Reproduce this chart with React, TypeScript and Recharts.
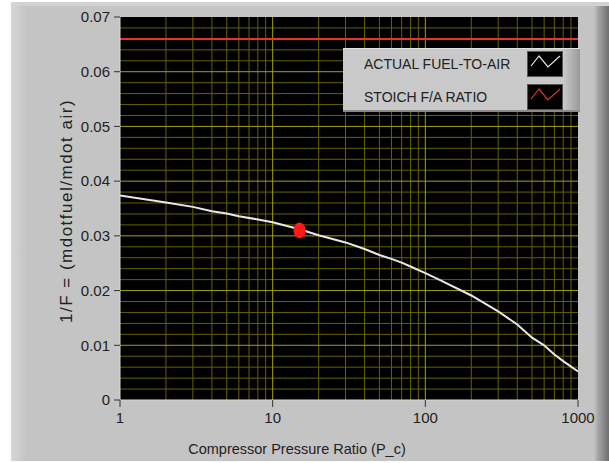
import {
  ComposedChart,
  CartesianGrid,
  Line,
  Scatter,
  XAxis,
  YAxis,
  ReferenceLine,
  Legend,
} from "recharts";

// compressor pressure ratio (log axis) and actual fuel-to-air ratio
const pressureRatio = [1, 2, 3, 4, 5, 6, 8, 10, 15, 20, 30, 40, 50, 60, 70, 80, 100, 125, 200, 300, 400, 500, 600, 700, 800, 1000];
const fuelToAir = [0.0374, 0.0361, 0.0353, 0.0345, 0.0341, 0.0336, 0.033, 0.0325, 0.0312, 0.0301, 0.0288, 0.0276, 0.0265, 0.0258, 0.0251, 0.0244, 0.0232, 0.0219, 0.0191, 0.0162, 0.0138, 0.0114, 0.01, 0.0083, 0.0071, 0.0052];

const stoichRange = [1, 1000];
const stoichValue = 0.066;

const designRatio = 15;
const designFuelToAir = 0.031;

const xTicks = [1, 10, 100, 1000];
const yTicks = [0, 0.01, 0.02, 0.03, 0.04, 0.05, 0.06, 0.07];

const xMajorGrid = [10, 100];
const xMinorGrid = [2, 3, 4, 5, 6, 7, 8, 9, 20, 30, 40, 50, 60, 70, 80, 90, 200, 300, 400, 500, 600, 700, 800, 900];
const yMajorGrid = [0.01, 0.02, 0.03, 0.04, 0.05, 0.06];
const yMinorGrid = [
  0.002, 0.004, 0.006, 0.008, 0.012, 0.014, 0.016, 0.018, 0.022, 0.024, 0.026, 0.028,
  0.032, 0.034, 0.036, 0.038, 0.042, 0.044, 0.046, 0.048, 0.052, 0.054, 0.056, 0.058,
  0.062, 0.064, 0.066, 0.068,
];

const legendItems = [
  { label: "ACTUAL FUEL-TO-AIR", color: "#e8e8e8" },
  { label: "STOICH F/A RATIO", color: "#e8322a" },
];

const actualData = pressureRatio.map((x, i) => ({ x, y: fuelToAir[i] }));
const stoichData = stoichRange.map((x) => ({ x, y: stoichValue }));
const designData = [{ x: designRatio, y: designFuelToAir }];

const FONT = "'Liberation Sans', Arial, sans-serif";
const MINOR = "#626200";
const MAJOR = "#a0a010";

const renderLegend = () => (
  <div
    style={{
      position: "relative",
      width: 237,
      height: 64,
      boxSizing: "border-box",
      background: "linear-gradient(to right, #c9c9c9 0%, #c9c9c9 93%, #9a9a9a 100%)",
      borderTop: "1px solid #e2e2e2",
      borderBottom: "2px solid #8a8a8a",
      fontFamily: FONT,
      fontSize: 14,
      color: "#222",
    }}
  >
    {legendItems.map((item, i) => (
      <div key={item.label} style={{ position: "absolute", left: 0, top: 2 + i * 33, height: 26, width: 237 }}>
        <span style={{ position: "absolute", left: 21, top: 5, whiteSpace: "nowrap" }}>{item.label}</span>
        <svg
          width={34}
          height={24}
          style={{ position: "absolute", left: 184, top: 0, background: "#000", border: "1px solid #555" }}
        >
          <polyline points="3,14 11,4 20,15 32,4" fill="none" stroke={item.color} strokeWidth={1.2} />
        </svg>
      </div>
    ))}
  </div>
);

const DesignPoint = (props: any) => (
  <ellipse cx={props.cx} cy={props.cy} rx={6} ry={8} fill="#ff1a1a" />
);

export default function App() {
  return (
    <div style={{ position: "absolute", left: 0, top: 0, width: 609, height: 463, background: "#fff" }}>
      <div
        style={{
          position: "absolute",
          left: 11,
          top: 2,
          width: 598,
          height: 459,
          background:
            "linear-gradient(to right, #d6d6d6 0px, #c4c4c4 16px, #c4c4c4 583px, #a6a6a6 587px, #6e6e6e 598px)",
          borderTop: "4px solid #d2d2d2",
          boxSizing: "border-box",
        }}
      />
      <div style={{ position: "absolute", left: 0, top: 0 }}>
        <ComposedChart width={609} height={463} margin={{ top: 17, right: 31, bottom: 0, left: 0 }}>
          <CartesianGrid fill="#000" horizontal={false} vertical={false} />
          {yMinorGrid.map((v) => (
            <ReferenceLine key={"ym" + v} y={v} stroke={MINOR} strokeWidth={1} />
          ))}
          {xMinorGrid.map((v) => (
            <ReferenceLine key={"xm" + v} x={v} stroke={MINOR} strokeWidth={1} />
          ))}
          {yMajorGrid.map((v) => (
            <ReferenceLine key={"yM" + v} y={v} stroke={MAJOR} strokeWidth={1} />
          ))}
          {xMajorGrid.map((v) => (
            <ReferenceLine key={"xM" + v} x={v} stroke={MAJOR} strokeWidth={1} />
          ))}
          <XAxis
            dataKey="x"
            type="number"
            scale="log"
            domain={[1, 1000]}
            ticks={xTicks}
            allowDataOverflow
            height={63}
            tickSize={7}
            tickMargin={5}
            axisLine={{ stroke: "#d8d8d8" }}
            tickLine={{ stroke: "#333" }}
            tick={{ fill: "#222", fontSize: 15, fontFamily: FONT }}
            label={{
              content: () => (
                <text x={297} y={454} textAnchor="middle" fill="#222" fontSize={14.5} fontFamily={FONT}>
                  Compressor Pressure Ratio (P_c)
                </text>
              ),
            }}
          />
          <YAxis
            type="number"
            domain={[0, 0.07]}
            ticks={yTicks}
            width={120}
            tickSize={6}
            tickMargin={4}
            axisLine={{ stroke: "#d8d8d8" }}
            tickLine={{ stroke: "#333" }}
            tick={{ fill: "#222", fontSize: 15, fontFamily: FONT }}
            label={{
              content: () => (
                <text
                  x={72}
                  y={211}
                  transform="rotate(-90, 72, 211)"
                  textAnchor="middle"
                  fill="#222"
                  fontSize={17}
                  letterSpacing={1.5}
                  fontFamily={FONT}
                >
                  1/F = (mdotfuel/mdot air)
                </text>
              ),
            }}
          />
          <Line
            data={stoichData}
            dataKey="y"
            stroke="#e8322a"
            strokeWidth={2}
            dot={false}
            isAnimationActive={false}
          />
          <Line
            data={actualData}
            dataKey="y"
            stroke="#e8e8e8"
            strokeWidth={2}
            dot={false}
            isAnimationActive={false}
          />
          <Scatter data={designData} dataKey="y" shape={DesignPoint} isAnimationActive={false} />
          <Legend
            layout="vertical"
            align="center"
            verticalAlign="middle"
            content={renderLegend}
            wrapperStyle={{ left: 343, top: 48, width: 237, height: 64 }}
          />
        </ComposedChart>
      </div>
    </div>
  );
}
